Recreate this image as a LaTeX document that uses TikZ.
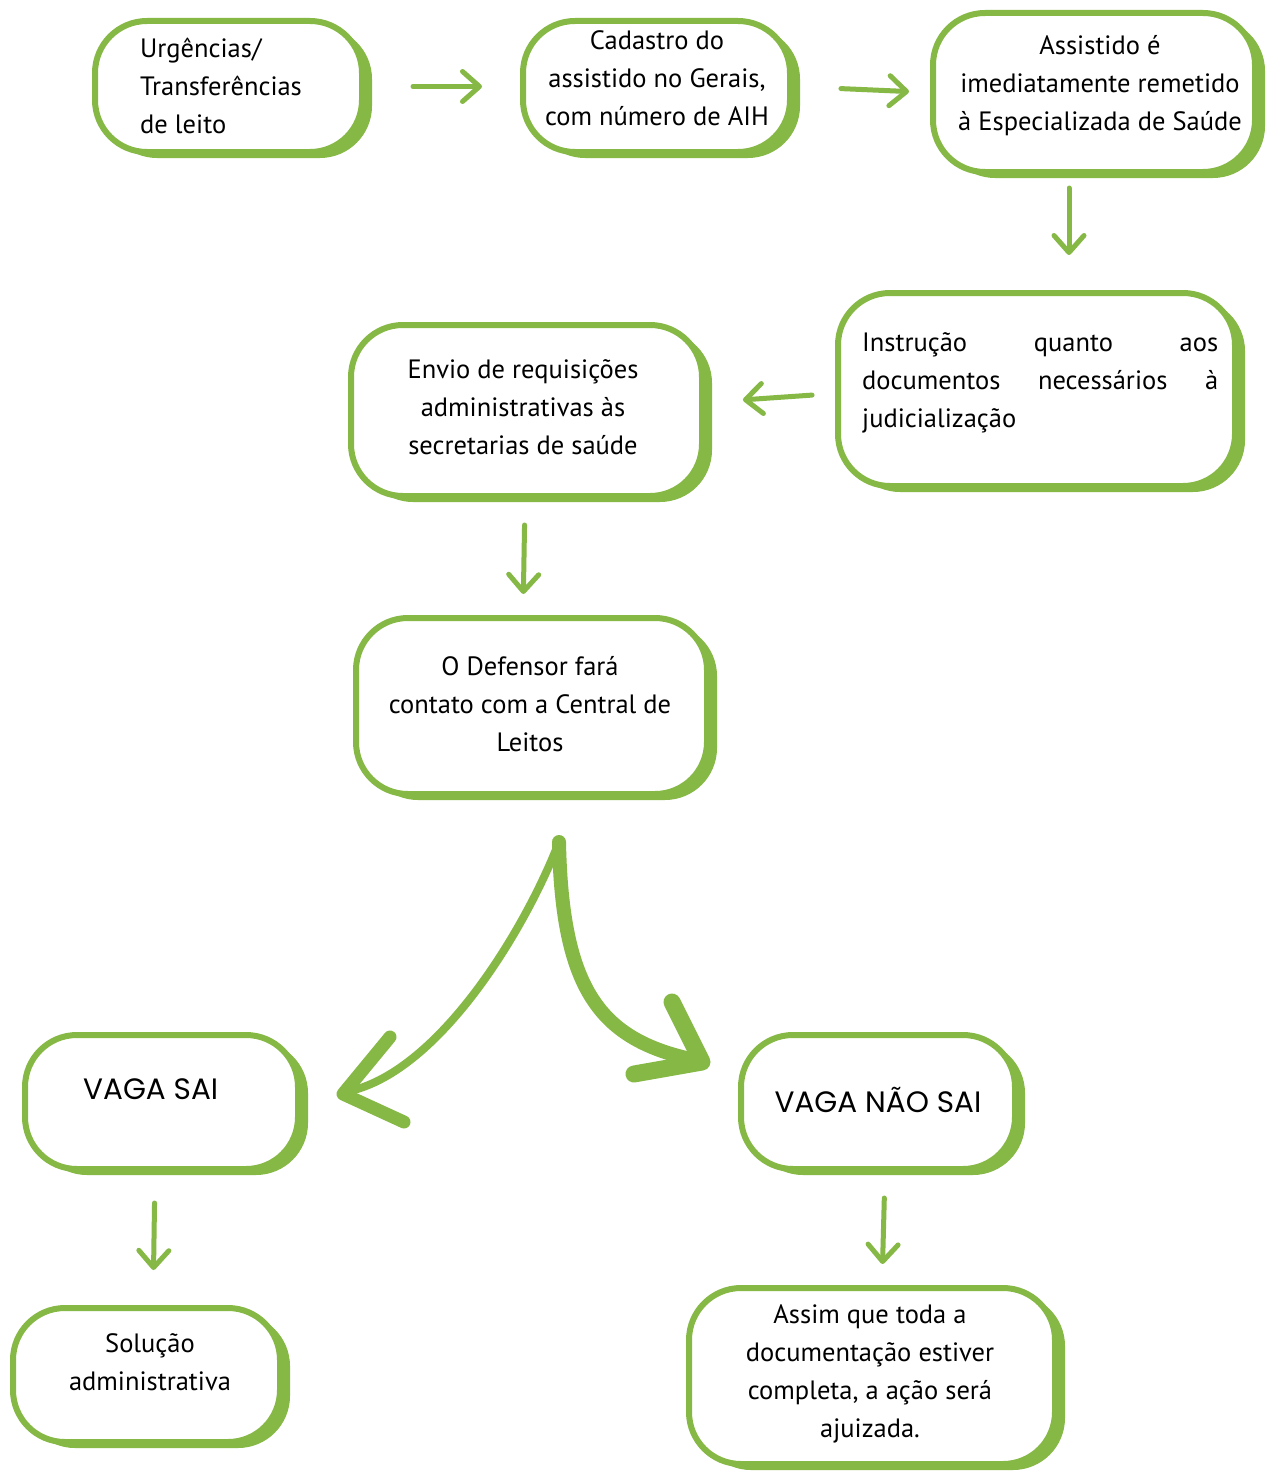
\documentclass[tikz,border=0pt]{standalone}
\usepackage{fontspec}
\setmainfont{PT Sans}
\newfontfamily\vagafont{Poppins}
\usetikzlibrary{arrows.meta,shadows,calc}
\definecolor{grn}{RGB}{134,184,69}
\tikzset{
  box/.style={draw=grn, line width=6pt, fill=white, rounded corners=52pt,
    inner sep=0pt, drop shadow={shadow xshift=10pt, shadow yshift=-6pt, fill=grn, opacity=1}},
  txt/.style={font=\fontsize{26.5}{38}\selectfont, align=center, inner sep=0pt},
  vaga/.style={font=\vagafont\fontsize{29.5}{34}\selectfont, inner sep=0pt},
  arr/.style={draw=grn, line width=5pt, line cap=round,
    -{Straight Barb[length=17pt,width=30pt,round]}},
  bigline/.style={draw=grn, line cap=round, line join=round},
}
\begin{document}
\begin{tikzpicture}[x=1pt,y=-1pt]
\useasboundingbox[fill=white] (0,0) rectangle (1268,1472);
% boxes
\node[box, minimum width=267pt, minimum height=131pt] (b1) at (228.5,86.5) {};
\node[box, minimum width=267pt, minimum height=131pt] (b2) at (656.5,86.5) {};
\node[box, minimum width=322pt, minimum height=159pt] (b3) at (1094,92.5) {};
\node[box, minimum width=397pt, minimum height=193pt] (b4) at (1036.5,389.5) {};
\node[box, minimum width=351pt, minimum height=171pt] (b5) at (526.5,410.5) {};
\node[box, minimum width=351pt, minimum height=176pt] (b6) at (531.5,706) {};
\node[box, minimum width=273pt, minimum height=134pt] (b7) at (161.5,1102) {};
\node[box, minimum width=274pt, minimum height=134pt] (b8) at (878,1102) {};
\node[box, minimum width=267pt, minimum height=134pt] (b9) at (146.5,1375) {};
\node[box, minimum width=366pt, minimum height=176pt] (b10) at (872,1376) {};
% texts
\node[txt, align=left, anchor=west] (t1) at (140,86) {Urgências/\\Transferências\\de leito};
\node[txt] (t2) at (657,78) {Cadastro do\\assistido no Gerais,\\com número de AIH};
\node[txt] (t3) at (1100,86) {Assistido é\\imediatamente remetido\\à Especializada de Saúde};
\node[txt, align=left, anchor=west] (t4) at (862,383) {\makebox[356pt][s]{Instrução quanto aos}\\\makebox[356pt][s]{documentos necessários à}\\judicialização};
\node[txt] (t5) at (523,407) {Envio de requisições\\administrativas às\\secretarias de saúde};
\node[txt] (t6) at (530,704) {O Defensor fará\\contato com a Central de\\Leitos};
\node[vaga, anchor=west] (t7) at (83,1089) {VAGA SAI};
\node[vaga] (t8) at (878,1100) {VAGA NÃO SAI};
\node[txt] (t9) at (150,1362) {Solução\\administrativa};
\node[txt] (t10) at (870,1374) {Assim que toda a\\documentação estiver\\completa, a ação será\\ajuizada.};
% straight arrows
\draw[arr, shorten <=48pt, shorten >=38pt] (b1.east) -- (b2.west);
\draw[arr, shorten <=48pt, shorten >=21pt] (b2.east) -- (b3.west);
\draw[arr, shorten <=13pt, shorten >=35pt] ([xshift=-25pt]b3.south) -- ([xshift=32.5pt]b4.north);
\draw[arr, shorten <=23pt, shorten >=38pt] ([yshift=-4pt]b4.west) -- ([yshift=8pt]b5.east);
\draw[arr, shorten <=26pt, shorten >=21pt] ([xshift=-1.5pt]b5.south) -- ([xshift=-8.5pt]b6.north);
\draw[arr, shorten <=31pt, shorten >=35pt] ([xshift=-6.5pt]b7.south) -- ([xshift=6.5pt]b9.north);
\draw[arr, shorten <=26pt, shorten >=21pt] ([xshift=7pt]b8.south) -- ([xshift=10pt]b10.north);
% fork arrows
\coordinate (fork) at (559,842);
\coordinate (lt) at (343,1094);
\coordinate (rt) at (702,1062);
\draw[bigline, line width=8pt] (fork) .. controls (525,930) and (440,1070) .. (350,1091);
\draw[bigline, line width=13pt] (390,1037) -- (lt) -- (404,1122);
\draw[bigline, line width=14pt] (fork) .. controls (562,990) and (600,1040) .. (695,1060);
\draw[bigline, line width=17pt] (672,1002) -- (rt) -- (634,1074);
\end{tikzpicture}
\end{document}
